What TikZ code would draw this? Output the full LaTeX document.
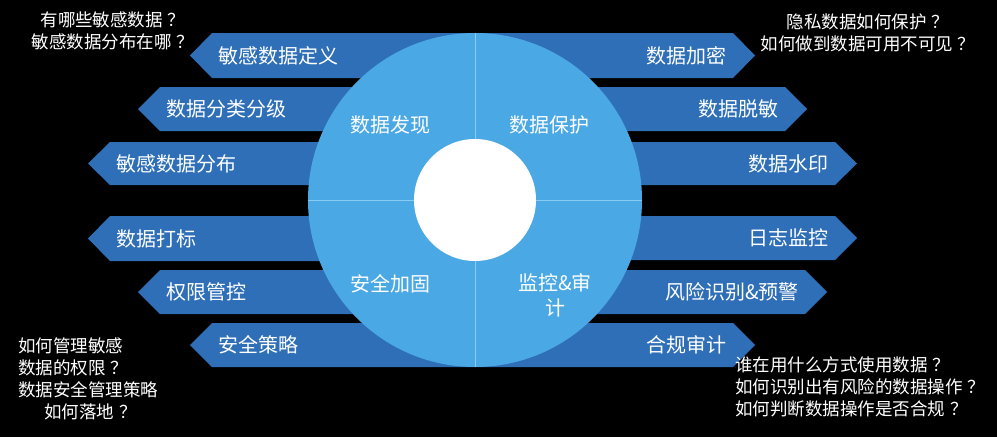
\documentclass[tikz,border=0pt]{standalone}
\usepackage{fontspec}
\setmainfont{Noto Sans CJK SC}
\usetikzlibrary{positioning}
\definecolor{ring}{HTML}{4AA8E4}
\definecolor{bar}{HTML}{2E6FB7}
\definecolor{seam}{HTML}{8ACBF2}
\newcommand\qmark{\kern5pt？}

\begin{document}
\begin{tikzpicture}[x=1pt, y=-1pt,
    lbl/.style={text=white, font=\fontsize{20}{25}\selectfont, inner sep=0pt},
    ask/.style={text=white, font=\fontsize{17.5}{22}\selectfont, inner sep=0pt}]
  \fill[black] (0,0) rectangle (997,437);
  \useasboundingbox (0,0) rectangle (997,437);

  \foreach \t/\b/\x/\s [count=\i] in {33/78/190/敏感数据定义, 87/131/138/数据分类分级,
      142/185/88/敏感数据分布, 216/261/88/数据打标, 270/314/138/权限管控, 323/367/190/安全策略} {
    \fill[bar] (\x,{(\t+\b)/2}) -- (\x+22,\t) -- (475,\t) -- (475,\b) -- (\x+22,\b) -- cycle;
    \node[lbl, anchor=west] (l\i) at (\x+28,{(\t+\b)/2}) {\s};
  }
  \foreach \t/\b/\x/\s [count=\i] in {33/78/755/数据加密, 87/131/807/数据脱敏,
      142/185/857/数据水印, 216/260/857/日志监控, 270/314/827/风险识别\&预警, 323/367/755/合规审计} {
    \fill[bar] (\x,{(\t+\b)/2}) -- (\x-22,\t) -- (475,\t) -- (475,\b) -- (\x-22,\b) -- cycle;
    \node[lbl, anchor=east] (r\i) at (\x-28,{(\t+\b)/2}) {\s};
  }

  \node[circle, fill=ring, minimum size=334pt, inner sep=0pt] (disc) at (475,200) {};
  \draw[seam, line width=0.8pt] (disc.north) -- (disc.south);
  \draw[seam, line width=0.8pt] (disc.west) -- (disc.east);
  \node[circle, fill=white, minimum size=122pt, inner sep=0pt] (hub) at (disc) {};

  \node[lbl] (find)    at (390,125) {数据发现};
  \node[lbl] (protect) at (549,125) {数据保护};
  \node[lbl] (harden)  at (390,284) {安全加固};
  \node[lbl, align=center] (audit) at (555,295) {监控\&审\\计};

  \node[ask, align=center] (q1) at (113,31) {有哪些敏感数据\qmark\\敏感数据分布在哪\qmark};
  \node[ask, align=center] (q2) at (868,33) {隐私数据如何保护\qmark\\如何做到数据可用不可见\qmark};
  \node[ask, align=left, anchor=west] (q3) at (18,379)
    {如何管理敏感\\数据的权限\qmark\\数据安全管理策略\\\hspace*{1.5em}如何落地\qmark};
  \node[ask, align=left, anchor=west] (q4) at (735,387)
    {谁在用什么方式使用数据\qmark\\如何识别出有风险的数据操作\qmark\\如何判断数据操作是否合规\qmark};
\end{tikzpicture}
\end{document}
